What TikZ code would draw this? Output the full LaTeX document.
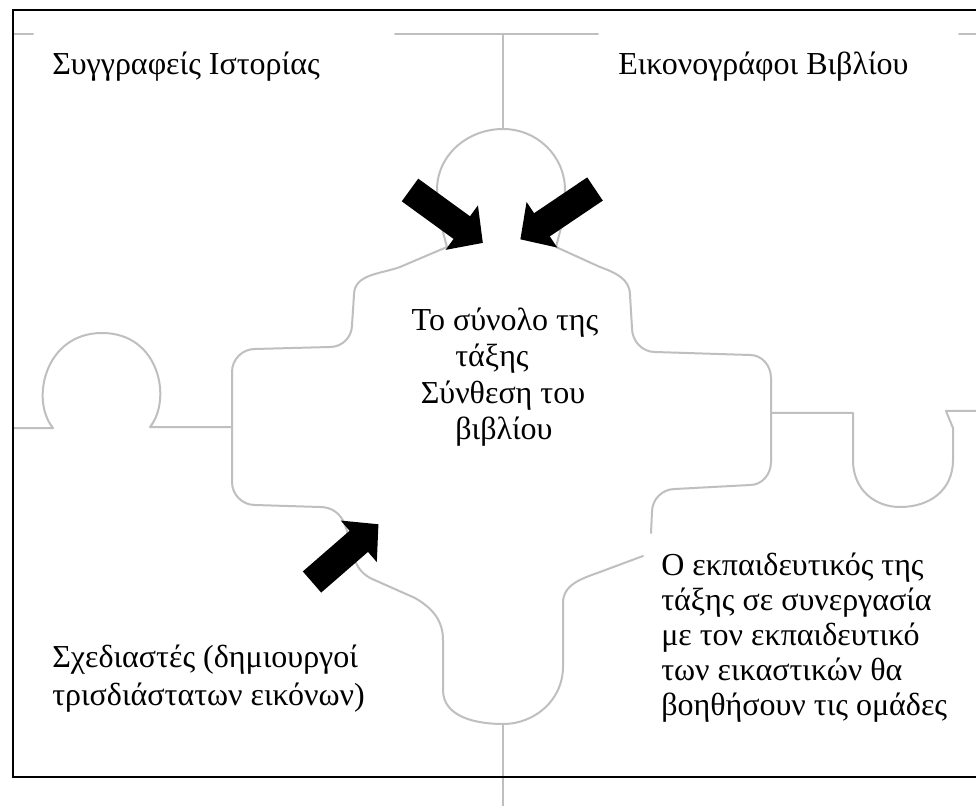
\documentclass[tikz,border=0pt]{standalone}
\usepackage{fontspec}
\setmainfont{Liberation Serif}
\usetikzlibrary{calc}
\tikzset{
  puzzle/.style={draw=black!25, line width=1.5pt, line join=round, line cap=round},
  frameline/.style={draw=black, line width=1.6pt},
  lbl/.style={inner sep=0pt, font=\fontsize{24}{27.5}\selectfont},
  arrowfill/.style={fill=black},
}
\newcommand\blockarr[3]{%
  \fill[arrowfill] ($#1+({#2-90}:14)$) -- ($#1+({#2}:{#3-26})+({#2-90}:14)$) -- ($#1+({#2}:{#3-26})+({#2-90}:27.5)$) -- ($#1+({#2}:{#3})$) -- ($#1+({#2}:{#3-26})+({#2+90}:27.5)$) -- ($#1+({#2}:{#3-26})+({#2+90}:14)$) -- ($#1+({#2+90}:14)$) -- cycle;}
\begin{document}
\begin{tikzpicture}[x=0.75pt,y=-0.75pt]
\useasboundingbox (0,0) rectangle (976,806);
\fill[white] (0,0) rectangle (976,806);
% top line pieces
\draw[puzzle] (13,34) -- (33,34);
\draw[puzzle] (395,34) -- (598,34);
\draw[puzzle] (959,34) -- (976,34);
\draw[puzzle] (503,34) -- (503,129);
\draw[puzzle] (503,724) -- (503,806);
% left knob line
\draw[puzzle] (13,428) -- (53,428) .. controls (30,400) and (45,333) .. (102,333) .. controls (160,333) and (172,400) .. (150,427) -- (232,427);
% right socket line
\draw[puzzle] (771,413) -- (853,413) -- (853,460) .. controls (853,490) and (875,507) .. (900,507) .. controls (930,507) and (953,490) .. (953,460) -- (953,428) -- (946,411) -- (976,411);
% centre piece
\draw[puzzle] (643,556) -- (600,572) to[out=200,in=90] (563,603) -- (563,667) to[out=-90,in=0] (503,724) to[out=180,in=-90] (443,690) -- (443,640) to[out=90,in=-30] (415,598) -- (370,578) to[out=150,in=-70] (345,525) to[out=110,in=0] (320,507) -- (255,505) to[out=180,in=-90] (232,482) -- (232,372) to[out=90,in=180] (255,349) -- (330,347) to[out=0,in=-90] (352,325) -- (354,295) to[out=90,in=-160] (400,267) -- (447,247) to[out=105,in=-90] (437,190) to[out=90,in=180] (503,129) to[out=0,in=90] (565,190) to[out=-90,in=75] (556,247) -- (600,267) to[out=-20,in=90] (630,295) -- (632,328) to[out=-90,in=180] (655,352) -- (750,355) to[out=0,in=90] (771,378) -- (771,462) to[out=-90,in=0] (750,485) -- (675,489) to[out=180,in=90] (652,512) -- (651,533);
% frame
\draw[frameline] (976,10) -- (13,10) -- (13,777) -- (976,777);
% arrows
\blockarr{(410,190)}{36}{90}
\blockarr{(595,189)}{146}{90}
\blockarr{(312,582)}{-41}{88}
% texts
\node[lbl, anchor=base west] (t1) at (52,75) {Συγγραφείς Ιστορίας};
\node[lbl, anchor=base west] (t2) at (618,75) {Εικονογράφοι Βιβλίου};
\node[lbl, anchor=base] (c1) at (505,330) {Το σύνολο της};
\node[lbl, anchor=base] (c2) at (492,367) {τάξης};
\node[lbl, anchor=base] (c3) at (503,403) {Σύνθεση του};
\node[lbl, anchor=base] (c4) at (504,440) {βιβλίου};
\node[lbl, anchor=base west] (d1) at (52,667) {Σχεδιαστές (δημιουργοί};
\node[lbl, anchor=base west] (d2) at (52,705) {τρισδιάστατων εικόνων)};
\node[lbl, anchor=base west] (e1) at (661,575) {Ο εκπαιδευτικός της};
\node[lbl, anchor=base west] (e2) at (661,610) {τάξης σε συνεργασία};
\node[lbl, anchor=base west] (e3) at (661,645) {με τον εκπαιδευτικό};
\node[lbl, anchor=base west] (e4) at (661,680) {των εικαστικών θα};
\node[lbl, anchor=base west] (e5) at (661,715) {βοηθήσουν τις ομάδες};
\end{tikzpicture}
\end{document}
